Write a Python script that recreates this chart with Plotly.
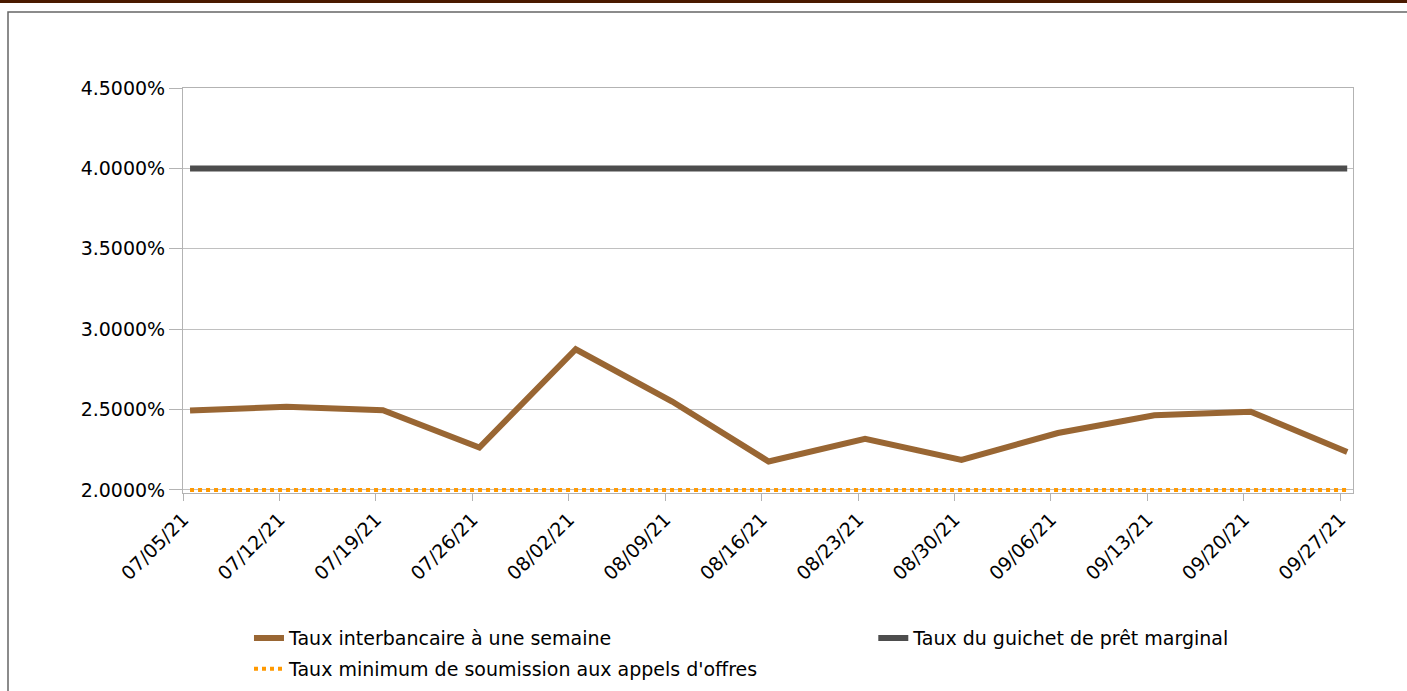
import plotly.graph_objects as go

# weekly dates shown on the category axis
dates = ["07/05/21", "07/12/21", "07/19/21", "07/26/21", "08/02/21", "08/09/21", "08/16/21",
         "08/23/21", "08/30/21", "09/06/21", "09/13/21", "09/20/21", "09/27/21"]

# rates in %
interbank_1w = [2.494, 2.517, 2.496, 2.264, 2.875, 2.55, 2.177, 2.318, 2.187, 2.354, 2.464, 2.487, 2.236]
marginal_lending = [4.0] * 13
min_bid_rate = [2.0] * 13

y_ticks = [2.0, 2.5, 3.0, 3.5, 4.0, 4.5]
y_labels = ["2.0000%", "2.5000%", "3.0000%", "3.5000%", "4.0000%", "4.5000%"]

x = list(range(len(dates)))
font = dict(family="DejaVu Sans, Arial, sans-serif", size=19, color="#000000")

fig = go.Figure()
fig.add_trace(go.Scatter(x=x, y=interbank_1w, mode="lines", name="Taux interbancaire à une semaine",
                         line=dict(color="#996633", width=6), legend="legend", legendgroup="a"))
fig.add_trace(go.Scatter(x=x, y=marginal_lending, mode="lines", name="Taux du guichet de prêt marginal",
                         line=dict(color="#4d4d4d", width=6), legend="legend2"))
fig.add_trace(go.Scatter(x=x, y=min_bid_rate, mode="lines",
                         name="Taux minimum de soumission aux appels d'offres",
                         line=dict(color="#ff9900", width=4, dash="dot"), legend="legend", legendgroup="b"))

fig.update_layout(
    width=1407, height=691,
    margin=dict(l=183, r=54, t=88, b=198),
    paper_bgcolor="white", plot_bgcolor="white",
    font=font,
    showlegend=True,
    legend=dict(orientation="v", x=0.0564, xanchor="left", y=0.104, yanchor="top", yref="container",
                font=font, tracegroupgap=3, bgcolor="rgba(0,0,0,0)"),
    legend2=dict(orientation="v", x=0.59, xanchor="left", y=0.104, yanchor="top", yref="container",
                 font=font, bgcolor="rgba(0,0,0,0)"),
    shapes=[
        # dark band at the very top of the page
        dict(type="rect", xref="paper", yref="paper", xsizemode="pixel", ysizemode="pixel",
             xanchor=0, yanchor=1, x0=-200, x1=1250, y0=95, y1=85,
             fillcolor="#4a1a00", line=dict(width=0), layer="above"),
        # frame around the chart
        dict(type="rect", xref="paper", yref="paper", xsizemode="pixel", ysizemode="pixel",
             xanchor=0, yanchor=1, x0=-175, x1=1260, y0=76, y1=-640,
             line=dict(color="#666666", width=1.5), layer="below"),
    ],
)

fig.update_xaxes(
    range=[-0.073, 12.06],
    tickmode="array", tickvals=[i - 0.073 for i in x], ticktext=dates,
    tickangle=-45, ticks="outside", ticklen=7, tickcolor="#b3b3b3",
    showgrid=False, showline=True, linecolor="#b3b3b3", linewidth=1, mirror=True,
    zeroline=False, tickfont=font,
)
fig.update_yaxes(
    range=[1.981, 4.5], tickmode="array", tickvals=y_ticks, ticktext=y_labels,
    ticks="outside", ticklen=13, tickcolor="#b3b3b3",
    showgrid=True, gridcolor="#c0c0c0", gridwidth=1,
    showline=True, linecolor="#b3b3b3", linewidth=1, mirror=True,
    zeroline=False, tickfont=font,
)

# page body has a default margin; drop it so the figure sits at the window origin
fig.write_html("out.html", config={"displayModeBar": False},
               post_script="document.body.style.margin='0';")
